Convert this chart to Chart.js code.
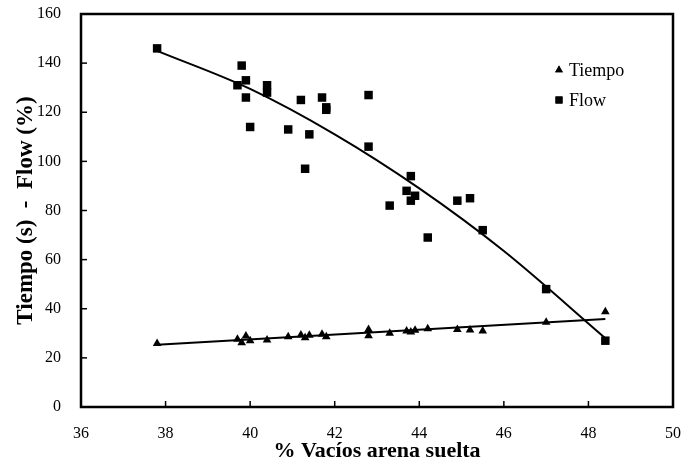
<!DOCTYPE html>
<html>
<head>
<meta charset="utf-8">
<script src="https://cdn.jsdelivr.net/npm/chart.js@4/dist/chart.umd.min.js"></script>
<style>
  html, body { margin: 0; padding: 0; background: #fff; }
  #wrap { width: 681px; height: 462px; }
</style>
</head>
<body>
<div id="wrap"><canvas id="chart" width="681" height="462"></canvas></div>
<script>
// data
const tiempoX = [37.8, 39.7, 39.8, 39.9, 40.0, 40.4, 40.9, 41.2, 41.3, 41.4, 41.7, 41.8, 42.8, 42.8, 43.3, 43.7, 43.8, 43.9, 44.2, 44.9, 45.2, 45.5, 47.0, 48.4];
const tiempoY = [25.9, 27.6, 26.2, 28.9, 27.0, 27.3, 28.6, 29.3, 28.2, 29.2, 29.6, 28.6, 31.6, 29.0, 30.0, 30.9, 30.5, 31.2, 31.9, 31.6, 31.3, 30.9, 34.5, 38.8];

const flowX = [37.8, 39.7, 39.8, 39.9, 39.9, 40.0, 40.4, 40.4, 40.9, 41.2, 41.3, 41.4, 41.7, 41.8, 41.8, 42.8, 42.8, 43.3, 43.7, 43.8, 43.8, 43.9, 44.2, 44.9, 45.2, 45.5, 47.0, 48.4];
const flowY = [146, 131, 139, 133, 126, 114, 131, 128, 113, 125, 97, 111, 126, 122, 121, 127, 106, 82, 88, 94, 84, 86, 69, 84, 85, 72, 48, 27];

// trend lines
const tiempoTrendX = [37.8, 48.4];
const tiempoTrendY = [25.3, 35.8];
const flowTrendX = [37.8, 40, 42, 44, 46, 48.4];
const flowTrendY = [145, 129.5, 111, 89, 63.5, 28];

const xTicks = [36, 38, 40, 42, 44, 46, 48, 50];
const yTicks = [0, 20, 40, 60, 80, 100, 120, 140, 160];

const toPts = (xs, ys) => xs.map((x, i) => ({ x, y: ys[i] }));

const FONT = "'Liberation Serif', 'Times New Roman', serif";

// frame + inward tick marks
const framePlugin = {
  id: 'frame',
  afterDraw(chart) {
    const { ctx, chartArea: a, scales } = chart;
    ctx.save();
    ctx.strokeStyle = '#000';
    ctx.lineWidth = 1.5;
    xTicks.forEach(v => {
      const px = scales.x.getPixelForValue(v);
      ctx.beginPath(); ctx.moveTo(px, a.bottom); ctx.lineTo(px, a.bottom - 6); ctx.stroke();
    });
    yTicks.forEach(v => {
      const py = scales.y.getPixelForValue(v);
      ctx.beginPath(); ctx.moveTo(a.left, py); ctx.lineTo(a.left + 6, py); ctx.stroke();
    });
    ctx.lineWidth = 2.5;
    ctx.strokeRect(a.left, a.top, a.right - a.left, a.bottom - a.top);
    ctx.restore();
  }
};

// legend inside the plot, top right
const legendPlugin = {
  id: 'innerLegend',
  afterDraw(chart) {
    const { ctx, chartArea: a } = chart;
    const items = chart.data.datasets.filter(d => d.inLegend);
    ctx.save();
    ctx.font = '18px ' + FONT;
    ctx.textBaseline = 'middle';
    items.forEach((d, i) => {
      const mx = a.right - 114, my = a.top + 56 + i * 30;
      ctx.fillStyle = '#000';
      Chart.helpers.drawPoint(ctx, {
        pointStyle: d.pointStyle, radius: d.pointStyle === 'rect' ? 5 : 4.5, rotation: 0, borderWidth: 0
      }, mx, my);
      ctx.fill();
      ctx.fillText(d.label, mx + 10, my + 1);
    });
    ctx.restore();
  }
};

new Chart(document.getElementById('chart'), {
  type: 'scatter',
  data: {
    datasets: [
      {
        label: 'Tiempo', inLegend: true,
        data: toPts(tiempoX, tiempoY),
        pointStyle: 'triangle', pointRadius: 5,
        backgroundColor: '#000', borderColor: '#000', borderWidth: 0
      },
      {
        label: 'Flow', inLegend: true,
        data: toPts(flowX, flowY),
        pointStyle: 'rect', pointRadius: 6,
        backgroundColor: '#000', borderColor: '#000', borderWidth: 0
      },
      {
        label: 'Tiempo trend',
        data: toPts(tiempoTrendX, tiempoTrendY),
        showLine: true, pointRadius: 0, borderColor: '#000', borderWidth: 2
      },
      {
        label: 'Flow trend',
        data: toPts(flowTrendX, flowTrendY),
        showLine: true, pointRadius: 0, borderColor: '#000', borderWidth: 2,
        cubicInterpolationMode: 'monotone'
      }
    ]
  },
  options: {
    responsive: false,
    animation: false,
    layout: { padding: { top: 14, right: 8, left: 0, bottom: 0 } },
    plugins: {
      legend: { display: false },
      tooltip: { enabled: false }
    },
    scales: {
      x: {
        type: 'linear', min: 36, max: 50,
        afterBuildTicks: s => { s.ticks = xTicks.map(v => ({ value: v })); },
        afterFit: s => { s.height = 55; s.paddingLeft = 0; s.paddingRight = 0; },
        grid: { display: false },
        border: { display: false },
        ticks: { color: '#000', font: { family: FONT, size: 16 }, padding: 9 },
        title: { display: true, text: '% Vacíos arena suelta', color: '#000', font: { family: FONT, size: 22, weight: 'bold', lineHeight: 1 }, padding: { top: 0, bottom: 0 } }
      },
      y: {
        type: 'linear', min: 0, max: 160,
        afterBuildTicks: s => { s.ticks = yTicks.map(v => ({ value: v })); },
        afterFit: s => { s.width = 81; s.paddingTop = 0; s.paddingBottom = 0; },
        grid: { display: false },
        border: { display: false },
        ticks: { color: '#000', font: { family: FONT, size: 16 }, padding: 12 },
        title: { display: true, text: 'Tiempo (s)  -  Flow (%)', color: '#000', font: { family: FONT, size: 23, weight: 'bold', lineHeight: 1 }, padding: { top: 15, bottom: 0 } }
      }
    }
  },
  plugins: [framePlugin, legendPlugin]
});
</script>
</body>
</html>
